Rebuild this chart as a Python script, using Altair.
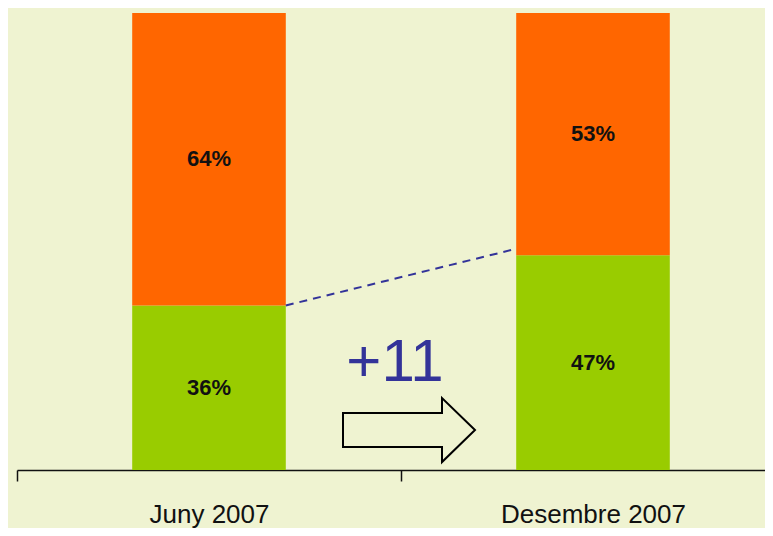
import altair as alt
import pandas as pd

categories = ["Juny 2007", "Desembre 2007"]
series = ["verd", "taronja"]
green_vals = [36, 47]
orange_vals = [64, 53]
link_from = [36]
link_to = [48.4]
change_text = ["+11"]
arrow_level = [8.75]
text_level = [19.5]

rows = []
for i, c in enumerate(categories):
    rows.append({"cat": c, "serie": series[0], "ord": 0, "value": green_vals[i]})
    rows.append({"cat": c, "serie": series[1], "ord": 1, "value": orange_vals[i]})
df = pd.DataFrame(rows)

BG = "#EFF3D1"
FONT = "Liberation Sans"
xscale = alt.Scale(domain=categories, range=[0, 768], paddingInner=0, paddingOuter=0)
yscale = alt.Scale(domain=[0, 100])

xaxis = alt.Axis(title=None, labelFont=FONT, labelFontSize=26, labelColor="#111111",
                 domainColor="#111111", domainWidth=1.5, tickColor="#111111", tickWidth=1.5,
                 tickSize=11, tickBand="extent", labelPadding=41, labelBaseline="alphabetic",
                 labelLimit=0, grid=False, labelAngle=0)

bars = alt.Chart(df).mark_bar(width={"band": 0.4}).encode(
    x=alt.X("cat:N", scale=xscale, axis=xaxis),
    y=alt.Y("value:Q", stack="zero", scale=yscale, axis=None),
    color=alt.Color("serie:N", scale=alt.Scale(domain=series, range=["#99CC00", "#FF6600"]), legend=None),
    order=alt.Order("ord:Q"),
)

labels = alt.Chart(df).transform_stack(
    stack="value", groupby=["cat"], as_=["v0", "v1"], sort=[alt.SortField("ord")]
).transform_calculate(
    mid="(datum.v0 + datum.v1) / 2", lab="datum.value + '%'"
).mark_text(font=FONT, fontWeight="bold", fontSize=22, color="#111111", baseline="middle").encode(
    x=alt.X("cat:N", scale=xscale, axis=xaxis),
    y=alt.Y("mid:Q", scale=yscale, axis=None),
    text="lab:N",
)

link_df = pd.DataFrame({"from": [categories[0]], "to": [categories[1]], "y1": link_from, "y2": link_to})
link = alt.Chart(link_df).mark_rule(color="#333399", strokeWidth=2, strokeDash=[8, 6]).encode(
    x=alt.X("from:N", bandPosition=0.7, scale=xscale, axis=xaxis),
    x2=alt.X2("to:N", bandPosition=0.3),
    y=alt.Y("y1:Q", scale=yscale, axis=None),
    y2="y2:Q",
)

ARROW = "M-1,-0.258 L0.5,-0.258 L0.5,-0.485 L1,0 L0.5,0.485 L0.5,0.258 L-1,0.258 Z"
arrow_df = pd.DataFrame({"cat": [categories[1]], "lvl": arrow_level})
arrow = alt.Chart(arrow_df).mark_point(
    shape=ARROW, size=17424, filled=True, fill=BG, stroke="#000000", strokeWidth=2,
    opacity=1, fillOpacity=1, strokeOpacity=1, xOffset=8
).encode(
    x=alt.X("cat:N", bandPosition=0, scale=xscale, axis=xaxis),
    y=alt.Y("lvl:Q", scale=yscale, axis=None),
)

txt_df = pd.DataFrame({"cat": [categories[1]], "lvl": text_level, "t": change_text})
change = alt.Chart(txt_df).mark_text(
    font=FONT, fontSize=60, color="#333399", baseline="alphabetic", align="center", dx=-6
).encode(
    x=alt.X("cat:N", bandPosition=0, scale=xscale, axis=xaxis),
    y=alt.Y("lvl:Q", scale=yscale, axis=None),
    text="t:N",
)

chart = alt.layer(bars, labels, link, arrow, change).properties(
    width=748, height=457,
    autosize=alt.AutoSizeParams(type="none"),
    padding={"left": 9, "top": 5, "right": 0, "bottom": 58},
    background=BG,
).configure_view(strokeWidth=0)

chart.save("out.html", embed_options={"renderer": "svg", "actions": False})
